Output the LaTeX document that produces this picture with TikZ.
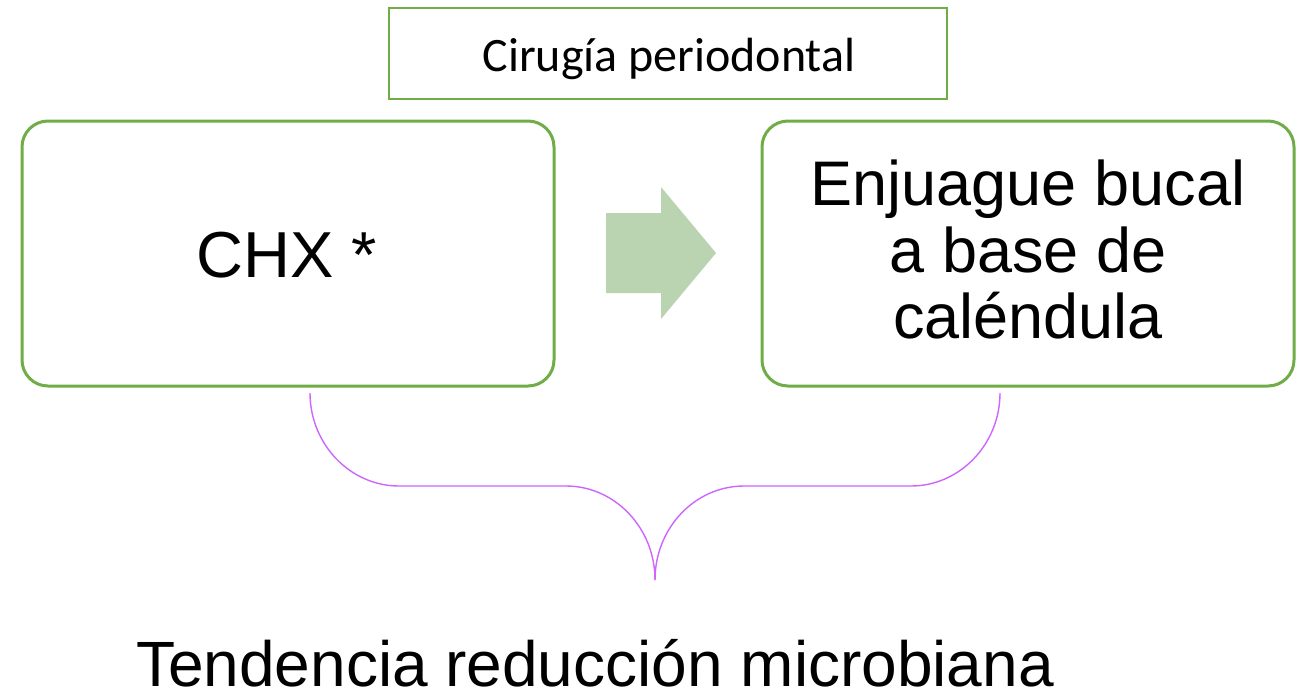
\documentclass[tikz,border=0pt]{standalone}
\usepackage{fontspec}
\setmainfont{Liberation Sans}
\newfontfamily\calib{Carlito}
\definecolor{boxgreen}{HTML}{70AD47}
\definecolor{arrowgreen}{HTML}{BAD3B0}
\definecolor{bracepurple}{HTML}{CC66FF}
\begin{document}
\begin{tikzpicture}[x=1pt,y=-1pt,
  bigbox/.style={draw=boxgreen,line width=3pt,rounded corners=26pt},
  topbox/.style={draw=boxgreen,line width=2pt},
  bracestyle/.style={draw=bracepurple,line width=1.4pt},
  lbl/.style={inner sep=0pt,anchor=base}]
\useasboundingbox (0,0) rectangle (1304,694);
% boxes
\draw[topbox] (389,8) rectangle (947,99);
\node[lbl,font=\calib\fontsize{48}{58}\selectfont] (top) at (669,71) {Cirugía periodontal};
\draw[bigbox] (22,121) rectangle (554,386);
\draw[bigbox] (762,121) rectangle (1294,386);
\node[lbl,font=\fontsize{65}{72}\selectfont] (chx) at (287,277) {CHX *};
\node[lbl,font=\fontsize{63}{67}\selectfont] (r1) at (1028,205) {Enjuague bucal};
\node[lbl,font=\fontsize{63}{67}\selectfont] (r2) at (1028,272) {a base de};
\node[lbl,font=\fontsize{63}{67}\selectfont] (r3) at (1028,338) {caléndula};
% arrow
\fill[arrowgreen] (606,213) -- (661,213) -- (661,187) -- (716,253) -- (661,319) -- (661,293) -- (606,293) -- cycle;
% brace
\coordinate (bl) at (310,393);
\coordinate (br) at (1000,393);
\coordinate (tip) at (655,580);
\draw[bracestyle] (bl) .. controls (310,444) and (350,486) .. (399,486) -- (566,486)
  .. controls (615,486) and (655,528) .. (tip);
\draw[bracestyle] (br) .. controls (1000,444) and (960,486) .. (911,486) -- (744,486)
  .. controls (695,486) and (655,528) .. (tip);
\node[lbl,font=\fontsize{64}{67}\selectfont] (bottom) at (595,686) {Tendencia reducción microbiana};
\end{tikzpicture}
\end{document}
